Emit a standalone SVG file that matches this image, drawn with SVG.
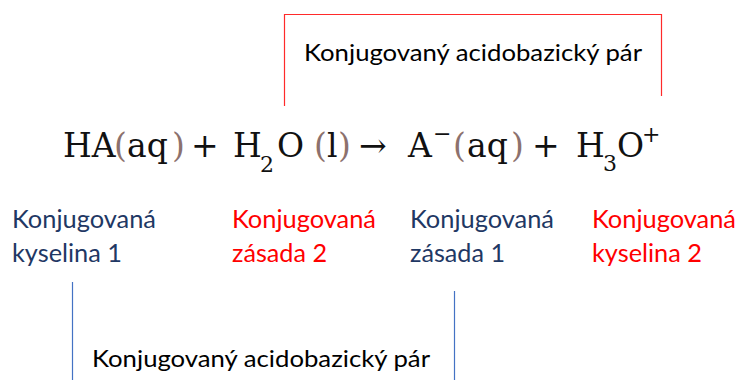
<svg xmlns="http://www.w3.org/2000/svg" width="741" height="380" viewBox="0 0 741 380">
<style>
.lbl{font-family:Lato,"Open Sans","Liberation Sans",sans-serif;font-size:24.5px}
.navy{fill:#1f3864}
.red{fill:#ff0000}
.pair{font-family:Lato,"Open Sans","Liberation Sans",sans-serif;font-size:24px;fill:#000}
.eq{font-family:"DejaVu Serif","Liberation Serif",serif;font-size:33px;fill:#111}
.par{fill:#8c716d}
.sub{font-size:22px}
</style>
<rect width="741" height="380" fill="#fff"/>
<g id="connectors" fill="none" stroke-width="1.2">
  <path d="M284.5 106 V14.5 H661.5 V96" stroke="#ff2a2a"/>
  <path d="M72.5 282 V380" stroke="#4472c4"/>
  <path d="M454.5 291 V380" stroke="#4472c4"/>
</g>
<g id="pair-top"><text class="pair" x="304" y="61" textLength="338" lengthAdjust="spacingAndGlyphs">Konjugovaný acidobazický pár</text></g>
<g id="pair-bottom"><text class="pair" x="92" y="367" textLength="338" lengthAdjust="spacingAndGlyphs">Konjugovaný acidobazický pár</text></g>
<g id="equation" class="eq">
  <text y="157"><tspan x="63">HA</tspan><tspan class="par" x="114">(</tspan><tspan x="127">aq</tspan><tspan class="par" x="172">)</tspan></text>
  <text x="191" y="157">+</text>
  <text y="157"><tspan x="233">H</tspan><tspan class="sub" x="260" y="172">2</tspan><tspan x="277" y="157">O</tspan></text>
  <text y="157"><tspan class="par" x="314">(</tspan><tspan x="327">l</tspan><tspan class="par" x="338">)</tspan></text>
  <text x="359" y="157">→</text>
  <text y="157"><tspan x="408">A</tspan><tspan class="sub" x="433" y="141">−</tspan><tspan class="par" x="453" y="157">(</tspan><tspan x="467">aq</tspan><tspan class="par" x="511">)</tspan></text>
  <text x="532" y="157">+</text>
  <text y="157"><tspan x="576">H</tspan><tspan class="sub" x="603" y="171">3</tspan><tspan x="617" y="157">O</tspan><tspan class="sub" x="642" y="142">+</tspan></text>
</g>
<g id="label-acid1" class="lbl navy">
  <text x="12" y="228" textLength="144" lengthAdjust="spacingAndGlyphs">Konjugovaná</text>
  <text x="12" y="262" textLength="110" lengthAdjust="spacingAndGlyphs">kyselina 1</text>
</g>
<g id="label-base2" class="lbl red">
  <text x="232" y="228" textLength="144" lengthAdjust="spacingAndGlyphs">Konjugovaná</text>
  <text x="232" y="262" textLength="95" lengthAdjust="spacingAndGlyphs">zásada 2</text>
</g>
<g id="label-base1" class="lbl navy">
  <text x="410" y="228" textLength="144" lengthAdjust="spacingAndGlyphs">Konjugovaná</text>
  <text x="410" y="262" textLength="95" lengthAdjust="spacingAndGlyphs">zásada 1</text>
</g>
<g id="label-acid2" class="lbl red">
  <text x="592" y="228" textLength="144" lengthAdjust="spacingAndGlyphs">Konjugovaná</text>
  <text x="592" y="262" textLength="110" lengthAdjust="spacingAndGlyphs">kyselina 2</text>
</g>
</svg>
